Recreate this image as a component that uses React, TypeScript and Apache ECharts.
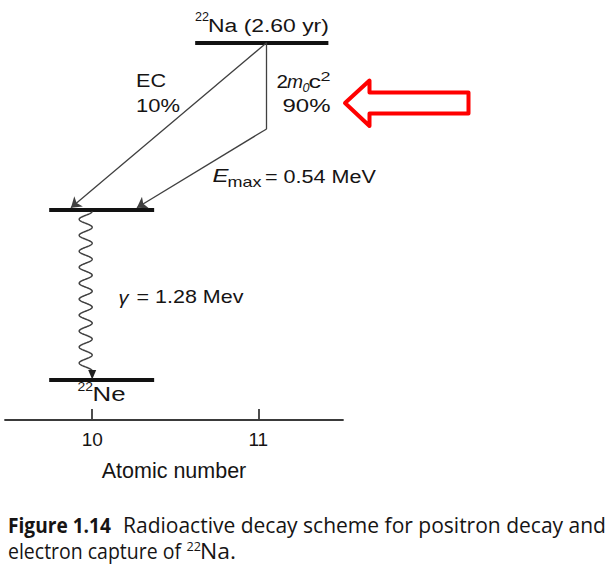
import React, { useEffect, useRef } from "react";
import * as echarts from "echarts";

// ---------- data ----------
// atomic-number axis
const atomicTicks = [10, 11];
const axisName = "Atomic number";

// energy levels (scheme energy units, Ne ground = 0)
const levelNames = ["22Na", "22Ne*", "22Ne"];
const levelStartZ = [10.62, 9.741, 9.741];
const levelEndZ = [11.422, 10.373, 10.373];
const levelEnergy = [2.53, 1.28, 0];

// EC branch (10 %): from Na level to excited Ne level
const ecFrom = [11.05, 2.53];
const ecTo = [9.872, 1.292];
// positron branch (90 %): 2m0c2 vertical drop then beta+ to excited Ne level
const posFrom = [11.05, 2.53];
const posKnee = [11.05, 1.883];
const posTo = [10.269, 1.292];
// gamma transition 1.28 MeV at Z = 10 : [Z, from energy, to energy]
const gammaData = [[10, 1.28, 0]];

// ---------- fonts ----------
const DIAG = "'Liberation Sans', Arial, Helvetica, sans-serif";
const CAP = "'Open Sans', 'Noto Sans', sans-serif";
const INK = "#161414";

const measureCtx: CanvasRenderingContext2D | null =
  typeof document !== "undefined" ? document.createElement("canvas").getContext("2d") : null;

function txt(
  text: string,
  x: number,
  y: number,
  width: number,
  size: number,
  family: string = DIAG,
  fontStyle: string = "normal",
  fontWeight: string | number = "normal"
) {
  let sx = 1;
  if (measureCtx) {
    measureCtx.font = `${fontStyle} ${fontWeight} ${size}px ${family}`;
    const w = measureCtx.measureText(text).width;
    if (w > 0) sx = (width + 1) / w;
  }
  return {
    type: "text",
    x,
    y,
    scaleX: sx,
    silent: true,
    style: {
      text,
      fill: INK,
      fontSize: size,
      fontFamily: family,
      fontStyle,
      fontWeight,
      align: "left",
      textAlign: "left",
      verticalAlign: "middle",
      textVerticalAlign: "middle",
    },
  };
}

export default function App() {
  const ref = useRef<HTMLDivElement>(null);

  useEffect(() => {
    if (!ref.current) return;
    const chart = echarts.init(ref.current, undefined, { renderer: "svg" });

    const levelLines = levelNames.map((n, i) => ({
      name: n,
      coords: [
        [levelStartZ[i], levelEnergy[i]],
        [levelEndZ[i], levelEnergy[i]],
      ],
    }));

    const option: any = {
      animation: false,
      backgroundColor: "#ffffff",
      grid: { left: 5, right: 272, top: 20, bottom: 157, containLabel: false },
      xAxis: {
        type: "value",
        min: 9.475,
        max: 11.51,
        name: axisName,
        nameLocation: "middle",
        nameGap: 40,
        nameTextStyle: { fontSize: 21.5, fontFamily: DIAG, color: INK },
        axisLine: { show: true, onZero: false, lineStyle: { color: "#3a3a3a", width: 1.8 } },
        axisTick: {
          show: true,
          inside: true,
          length: 11,
          customValues: atomicTicks,
          lineStyle: { color: "#3a3a3a", width: 1.8 },
        },
        axisLabel: {
          customValues: atomicTicks,
          fontSize: 19,
          fontFamily: DIAG,
          color: INK,
          margin: 10,
        },
        splitLine: { show: false },
      },
      yAxis: { type: "value", min: -0.3, max: 2.7, show: false },
      series: [
        {
          type: "lines",
          coordinateSystem: "cartesian2d",
          silent: true,
          lineStyle: { color: "#121212", width: 3.8, opacity: 1, cap: "butt" },
          symbol: "none",
          data: levelLines,
        },
        {
          type: "lines",
          coordinateSystem: "cartesian2d",
          silent: true,
          symbol: ["none", "arrow"],
          symbolSize: [0, 10],
          lineStyle: { color: "#404040", width: 1.3, opacity: 1 },
          data: [
            { coords: [ecFrom, ecTo] },
            { coords: [posKnee, posTo] },
          ],
        },
        {
          type: "lines",
          coordinateSystem: "cartesian2d",
          silent: true,
          symbol: "none",
          lineStyle: { color: "#404040", width: 1.3, opacity: 1 },
          data: [{ coords: [posFrom, posKnee] }],
        },
        {
          type: "custom",
          coordinateSystem: "cartesian2d",
          silent: true,
          data: gammaData,
          encode: { x: 0, y: [1, 2] },
          renderItem: (params: any, api: any) => {
            const z = api.value(0);
            const p1 = api.coord([z, api.value(1)]);
            const p2 = api.coord([z, api.value(2)]);
            const top = p1[1] + 2;
            const arrowLen = 10;
            const bottom = p2[1] - arrowLen + 1;
            const waves = 10;
            const amp = 6.5;
            const steps = 500;
            const pts: number[][] = [];
            for (let i = 0; i <= steps; i++) {
              const t = i / steps;
              pts.push([
                p1[0] - amp * (1 - Math.cos(2 * Math.PI * waves * t)),
                top + (bottom - top) * t,
              ]);
            }
            return {
              type: "group",
              children: [
                {
                  type: "polyline",
                  shape: { points: pts },
                  style: { stroke: "#404040", lineWidth: 1.5, fill: null },
                },
                {
                  type: "polygon",
                  shape: {
                    points: [
                      [p1[0] - 4, p2[1] - arrowLen],
                      [p1[0] + 4, p2[1] - arrowLen],
                      [p1[0], p2[1] - 0.5],
                    ],
                  },
                  style: { fill: "#222222" },
                },
              ],
            };
          },
        },
      ],
      graphic: [
        // red call-out arrow
        {
          type: "polygon",
          silent: true,
          shape: {
            points: [
              [345, 103],
              [369.5, 80.5],
              [369.5, 92.5],
              [468.5, 92.5],
              [468.5, 113.5],
              [369.5, 113.5],
              [369.5, 126],
            ],
          },
          style: { fill: "#ffffff", stroke: "#ff0000", lineWidth: 4, lineJoin: "round" },
        },
        // 22Na (2.60 yr)
        txt("22", 195, 17, 13, 12.5),
        txt("Na (2.60 yr)", 208, 25, 120, 19),
        // EC 10%
        txt("EC", 136, 80.5, 29, 19),
        txt("10%", 136, 105.5, 43, 19),
        // 2m0c2 90%
        txt("2", 276.5, 81.5, 10.5, 19),
        txt("m", 287, 81.5, 15, 19, DIAG, "italic"),
        txt("0", 302.5, 88.5, 6, 12, DIAG, "italic"),
        txt("c", 308.5, 81.5, 11.5, 19),
        txt("2", 320.5, 76.5, 9, 12.5),
        txt("90%", 282.5, 105.5, 47, 19),
        // Emax = 0.54 MeV
        txt("E", 212.5, 175.5, 15, 19, DIAG, "italic"),
        txt("max", 227.5, 182, 33, 14.5),
        txt("= 0.54 MeV", 265, 176, 110, 19),
        // gamma = 1.28 Mev
        txt("γ", 118.5, 297.5, 9, 19, DIAG, "italic"),
        txt("= 1.28 Mev", 136.5, 296.5, 106, 19),
        // 22Ne
        txt("22", 77.5, 386.5, 14.5, 12.5),
        txt("Ne", 92.5, 394.5, 32, 20),
        // caption
        txt("Figure 1.14", 8, 525, 102, 21, CAP, "normal", "bold"),
        txt("Radioactive decay scheme for positron decay and", 123, 525, 482, 21, CAP),
        txt("electron capture of", 8, 551, 172, 21, CAP),
        txt("22", 186.5, 546, 13.5, 13, CAP),
        txt("Na.", 200, 551, 35, 21, CAP),
      ],
    };

    chart.setOption(option);
    return () => chart.dispose();
  }, []);

  return (
    <div
      ref={ref}
      style={{ position: "fixed", left: 0, top: 0, width: 615, height: 577, background: "#fff" }}
    />
  );
}
